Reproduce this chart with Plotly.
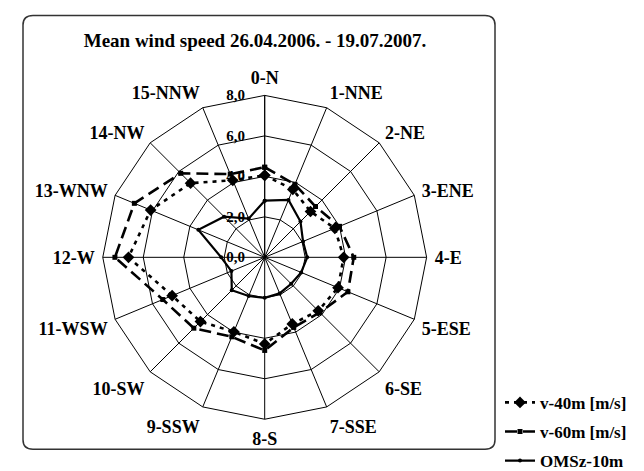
import plotly.graph_objects as go

directions = ["0-N", "1-NNE", "2-NE", "3-ENE", "4-E", "5-ESE", "6-SE", "7-SSE",
              "8-S", "9-SSW", "10-SW", "11-WSW", "12-W", "13-WNW", "14-NW", "15-NNW"]
v40 = [4.05, 3.63, 3.2, 3.75, 3.9, 3.92, 3.74, 3.56, 4.28, 3.98, 4.49, 4.95, 6.73, 6.1, 5.18, 4.12]
v60 = [4.45, 3.9, 3.55, 4.0, 4.4, 4.45, 3.85, 3.75, 4.6, 4.25, 4.95, 5.45, 7.4, 6.97, 5.87, 4.45]
omsz = [2.8, 3.07, 2.5, 2.05, 2.1, 1.95, 1.85, 1.93, 2.0, 2.07, 2.3, 1.78, 2.15, 3.55, 2.84, 2.07]
radial_ticks = [0, 2, 4, 6, 8]
radial_labels = ["0,0", "2,0", "4,0", "6,0", "8,0"]
title_text = "Mean wind speed 26.04.2006. - 19.07.2007."
names = ["v-40m [m/s]", "v-60m [m/s]", "OMSz-10m"]

FONT = "Liberation Serif"
W, H = 644, 471


def closed(a):
    return list(a) + [a[0]]


fig = go.Figure()
fig.add_trace(go.Scatterpolar(
    r=closed(v40), theta=closed(directions), name=names[0], mode="lines+markers",
    line=dict(color="black", width=2.6, dash="4px,5px"),
    marker=dict(symbol="diamond", size=9, color="black"),
    legendgroup="a"))
fig.add_trace(go.Scatterpolar(
    r=closed(v60), theta=closed(directions), name=names[1], mode="lines+markers",
    line=dict(color="black", width=2.6, dash="12px,6px"),
    marker=dict(symbol="square", size=5, color="black"),
    legendgroup="b"))
fig.add_trace(go.Scatterpolar(
    r=closed(omsz), theta=closed(directions), name=names[2], mode="lines+markers",
    line=dict(color="black", width=2.2),
    marker=dict(symbol="circle", size=4, color="black"),
    legendgroup="c"))

cx, cy, R = 256.7, 263.3, 171.0
fig.update_layout(
    width=W, height=H,
    margin=dict(l=0, r=0, t=0, b=0),
    paper_bgcolor="white",
    plot_bgcolor="white",
    font=dict(family=FONT, color="black"),
    title=dict(text=title_text, x=247 / W, xanchor="center",
               y=1 - 32 / H, yanchor="middle",
               font=dict(family=FONT, size=19, color="black", weight="bold")),
    polar=dict(
        domain=dict(x=[(cx - R) / W, (cx + R) / W],
                    y=[(H - cy - R) / H, (H - cy + R) / H]),
        bgcolor="white",
        gridshape="linear",
        angularaxis=dict(
            direction="clockwise", rotation=90,
            categoryorder="array", categoryarray=directions,
            tickfont=dict(family=FONT, size=18, color="black", weight="bold"),
            ticks="outside", ticklen=4, tickcolor="rgba(0,0,0,0)",
            showline=True, linecolor="black", linewidth=1,
            gridcolor="black", gridwidth=1),
        radialaxis=dict(
            range=[0, 8], tickvals=radial_ticks, ticktext=radial_labels,
            angle=90, side="counterclockwise", tickangle=90,
            tickfont=dict(family=FONT, size=15, color="black", weight="bold"),
            showline=True, linecolor="black", linewidth=1,
            gridcolor="black", gridwidth=1,
            ticks="outside", ticklen=14, tickcolor="rgba(0,0,0,0)"),
    ),
    showlegend=True,
    legend=dict(x=492 / W, xanchor="left", y=1 - 398 / H, yanchor="top",
                font=dict(family=FONT, size=17, color="black", weight="bold"),
                bgcolor="rgba(0,0,0,0)", tracegroupgap=4, itemwidth=30),
)

# rounded chart frame
x0, x1, y0, y1, rr = 15, 487, 8, 466, 10


def px(x):
    return x / W


def py(y):
    return 1 - y / H


path = (f"M {px(x0 + rr)},{py(y0)} L {px(x1 - rr)},{py(y0)} "
        f"Q {px(x1)},{py(y0)} {px(x1)},{py(y0 + rr)} "
        f"L {px(x1)},{py(y1 - rr)} Q {px(x1)},{py(y1)} {px(x1 - rr)},{py(y1)} "
        f"L {px(x0 + rr)},{py(y1)} Q {px(x0)},{py(y1)} {px(x0)},{py(y1 - rr)} "
        f"L {px(x0)},{py(y0 + rr)} Q {px(x0)},{py(y0)} {px(x0 + rr)},{py(y0)} Z")
fig.add_shape(type="path", path=path, xref="paper", yref="paper",
              line=dict(color="#333333", width=1.5), layer="below")

fig.write_html("out.html")
